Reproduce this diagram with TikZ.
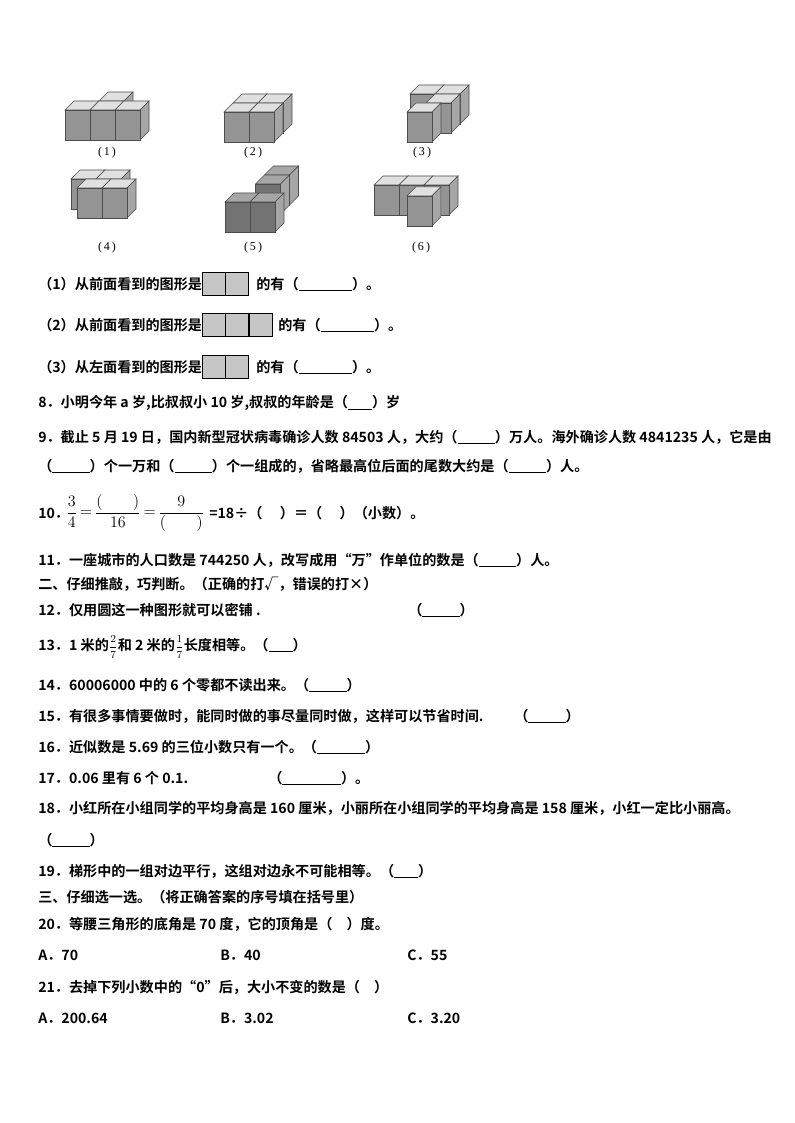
\documentclass[tikz,border=0pt]{standalone}
\usepackage{fontspec}
\setmainfont{Noto Sans CJK SC}[BoldFont={Noto Sans CJK SC Bold}]
\newfontfamily\numf{Liberation Serif}
\newcommand{\bl}[1]{\rule[-1.5pt]{#1}{0.6pt}}
\newcommand{\sfr}[2]{{\numf\fontsize{8.5pt}{9pt}\selectfont$\displaystyle\frac{#1}{#2}$}}
\newcommand{\cube}[3]{% x index, y base(px), depth index
 \begin{scope}[shift={({#1*25+#3*9},{#2-#3*9})}]
 \fill[cubetop,draw=black!70,line width=0.4pt] (0,-30)--(9,-39)--(34,-39)--(25,-30)--cycle;
 \fill[cubeside,draw=black!70,line width=0.4pt] (25,0)--(34,-9)--(34,-39)--(25,-30)--cycle;
 \fill[cubefront,draw=black!70,line width=0.4pt] (0,0) rectangle (25,-30);
 \end{scope}}
\begin{document}
\begin{tikzpicture}[x=0.75pt,y=-0.75pt,
 txt/.style={anchor=west,inner sep=0pt,font=\bfseries\fontsize{10.6pt}{12pt}\selectfont},
 lab/.style={inner sep=0pt,font=\numf\fontsize{9pt}{10pt}\selectfont},
 vbox/.style={draw=black,fill=gray!45,minimum width=17pt,minimum height=17pt,inner sep=0pt,line width=0.6pt}]
\colorlet{cubefront}{black!42}\colorlet{cubeside}{black!35}\colorlet{cubetop}{black!12}
\useasboundingbox (0,0) rectangle (794,1123);
\fill[white] (0,0) rectangle (794,1123);
% figure 1
\begin{scope}[shift={(65,140)}]\cube{1}{0}{1}\cube{0}{0}{0}\cube{1}{0}{0}\cube{2}{0}{0}\end{scope}
% figure 2
\begin{scope}[shift={(224,142)}]\cube{0}{0}{1}\cube{1}{0}{1}\cube{0}{0}{0}\cube{1}{0}{0}\end{scope}
% figure 3
\begin{scope}[shift={(392,142)}]\cube{0}{0}{2}\cube{1}{0}{2}\cube{1}{0}{1}\cube{0.6}{0}{0}\end{scope}
% figure 4
\begin{scope}[shift={(62,218)}]\cube{0}{0}{1}\cube{1}{0}{1}\cube{0.6}{0}{0}\cube{1.6}{0}{0}\end{scope}
\begin{scope}[shift={(225,232)}]
\colorlet{cubefront}{black!55}\colorlet{cubetop}{black!35}
\cube{0.5}{0}{3}\cube{0.5}{0}{2}\cube{0}{0}{0}\cube{1}{0}{0}\end{scope}
\begin{scope}[shift={(374,215)}]\cube{0}{0}{0}\cube{1}{0}{0}\cube{2}{0}{0}\cube{1.75}{0}{-1.2}\end{scope}
\node[lab] (l1) at (107,153) {(\,1\,)};
\node[lab] (l2) at (253,153) {(\,2\,)};
\node[lab] (l3) at (422,153) {(\,3\,)};
\node[lab] (l4) at (107,248) {(\,4\,)};
\node[lab] (l5) at (253,248) {(\,5\,)};
\node[lab] (l6) at (421,248) {(\,6\,)};
% questions
\node[txt] (q1) at (38,284) {（1）从前面看到的图形是};
\node[vbox,anchor=west] (b11) at (202,284) {};\node[vbox,anchor=west] (b12) at (b11.east) {};
\node[txt] (q1b) at (256,284) {的有（\bl{40pt}）。};
\node[txt] (q2) at (38,325) {（2）从前面看到的图形是};
\node[vbox,anchor=west] (b21) at (202,325) {};\node[vbox,anchor=west] (b22) at (b21.east) {};\node[vbox,anchor=west] (b23) at (b22.east) {};
\node[txt] (q2b) at (278,325) {的有（\bl{40pt}）。};
\node[txt] (q3) at (38,367) {（3）从左面看到的图形是};
\node[vbox,anchor=west] (b31) at (202,367) {};\node[vbox,anchor=west] (b32) at (b31.east) {};
\node[txt] (q3b) at (256,367) {的有（\bl{40pt}）。};
\node[txt] (q8) at (38,403) {8．小明今年 a 岁,比叔叔小 10 岁,叔叔的年龄是（\bl{18pt}）岁};
\node[txt] (q9) at (38,437) {9．截止 5 月 19 日，国内新型冠状病毒确诊人数 84503 人，大约（\bl{28pt}）万人。海外确诊人数 4841235 人，它是由};
\node[txt] (q9b) at (38,466) {（\bl{28pt}）个一万和（\bl{28pt}）个一组成的，省略最高位后面的尾数大约是（\bl{28pt}）人。};
\node[txt] (q10) at (38,513) {10．};
\node[anchor=west,inner sep=0pt,font=\numf\fontsize{11.5pt}{13pt}\selectfont] (f10) at (66,513)
 {$\displaystyle\frac{3}{4}\,\mathbf{=}\,\frac{(\qquad)}{16}\,\mathbf{=}\,\frac{9}{(\qquad)}$};
\node[txt] (q10b) at (209,513) {=18÷（\quad\ ）＝（\quad\ ）（小数）。};
\node[txt] (q11) at (38,560) {11．一座城市的人口数是 744250 人，改写成用“万”作单位的数是（\bl{28pt}）人。};
\node[txt] (s2) at (38,584) {二、仔细推敲，巧判断。（正确的打√，错误的打×）};
\node[txt] (q12) at (38,610) {12．仅用圆这一种图形就可以密铺\ .};
\node[txt] (q12b) at (408,610) {（\bl{28pt}）};
\node[txt] (q13) at (38,647) {13．1 米的\sfr{2}{7}和 2 米的\sfr{1}{7}长度相等。（\bl{18pt}）};
\node[txt] (q14) at (38,685) {14．60006000 中的 6 个零都不读出来。（\bl{28pt}）};
\node[txt] (q15) at (38,716) {15．有很多事情要做时，能同时做的事尽量同时做，这样可以节省时间.};
\node[txt] (q15b) at (514,716) {（\bl{28pt}）};
\node[txt] (q16) at (38,747) {16．近似数是 5.69 的三位小数只有一个。（\bl{36pt}）};
\node[txt] (q17) at (38,778) {17．0.06 里有 6\ 个 0.1.};
\node[txt] (q17b) at (268,778) {（\bl{44pt}）。};
\node[txt] (q18) at (38,808) {18．小红所在小组同学的平均身高是 160 厘米，小丽所在小组同学的平均身高是 158 厘米，小红一定比小丽高。};
\node[txt] (q18b) at (38,840) {（\bl{28pt}）};
\node[txt] (q19) at (38,871) {19．梯形中的一组对边平行，这组对边永不可能相等。（\bl{18pt}）};
\node[txt] (s3) at (38,897) {三、仔细选一选。（将正确答案的序号填在括号里）};
\node[txt] (q20) at (38,924) {20．等腰三角形的底角是 70 度，它的顶角是（\quad ）度。};
\node[txt] (a20) at (38,955) {A．70};
\node[txt] (b20) at (220,955) {B．40};
\node[txt] (c20) at (407,955) {C．55};
\node[txt] (q21) at (38,987) {21．去掉下列小数中的“0”后，大小不变的数是（\quad ）};
\node[txt] (a21) at (38,1018) {A．200.64};
\node[txt] (b21) at (220,1018) {B．3.02};
\node[txt] (c21) at (407,1018) {C．3.20};
\end{tikzpicture}
\end{document}
